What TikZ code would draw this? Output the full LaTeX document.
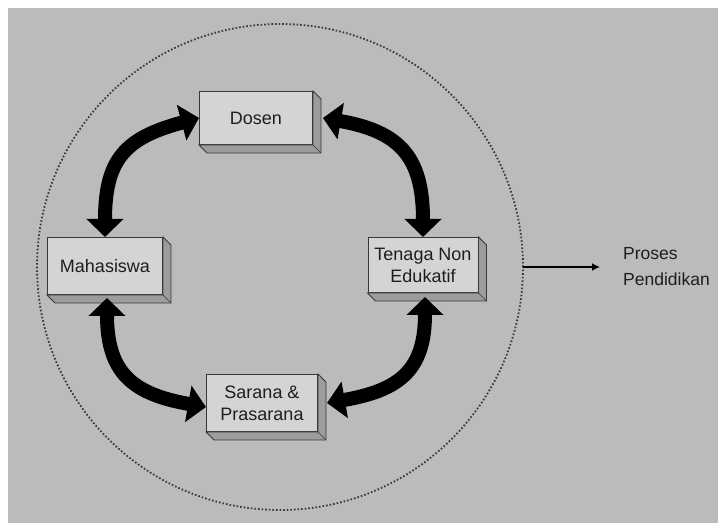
\documentclass[tikz,border=0pt]{standalone}
\usepackage{fontspec}
\setmainfont{Liberation Sans}
\usetikzlibrary{arrows.meta,calc}

\definecolor{latar}{HTML}{BBBBBB}
\definecolor{muka}{HTML}{D4D4D4}
\definecolor{sisi}{HTML}{9C9C9C}
\definecolor{garis}{HTML}{383838}
\definecolor{huruf}{HTML}{1E1E1E}

\tikzset{
  blok/.style={draw=garis, line width=1pt, fill=muka, text=huruf, align=center,
    inner sep=0pt, font=\fontsize{18}{22}\selectfont},
  panah/.style={line width=14pt, looseness=1.3,
    {Triangle[width=36pt,length=18pt]}-{Triangle[width=36pt,length=18pt]}},
}

% sisi tebal kotak (kanan dan bawah)
\newcommand{\sisiblok}[1]{%
  \filldraw[fill=sisi, draw=garis, line width=0.8pt] (#1.north east) -- ++(8,-8)
    -- ($(#1.south east)+(8,-8)$) -- ($(#1.south west)+(8,-8)$) -- (#1.south west)
    -- (#1.south east) -- cycle;
  \draw[garis, line width=0.6pt] (#1.south east) -- ++(8,-8);
}

\begin{document}
\begin{tikzpicture}[x=1pt, y=1pt]

\useasboundingbox[fill=white] (0,0) rectangle (718,525);
\fill[latar] (8,2) rectangle (718,517);

% lingkaran proses
\node[circle, draw=garis, line width=1.8pt, dash pattern=on 1.6pt off 2pt,
  minimum size=486pt, inner sep=0pt] (lingkaran) at (280,258) {};

% kotak-kotak
\node[blok, minimum width=113pt, minimum height=53pt] (dosen) at (256,407) {Dosen};
\node[blok, minimum width=115pt, minimum height=57pt] (maha) at (105,259) {Mahasiswa};
\node[blok, minimum width=110pt, minimum height=55pt] (tenaga) at (423,260) {Tenaga Non\\Edukatif};
\node[blok, minimum width=111pt, minimum height=57pt] (sarana) at (262,122) {Sarana \&\\Prasarana};

\sisiblok{dosen}
\sisiblok{maha}
\sisiblok{tenaga}
\sisiblok{sarana}

% panah dua arah
\draw[panah] (maha.north) to[out=90, in=195] (dosen.west);
\draw[panah] ([xshift=10pt]dosen.east) to[out=-10, in=90] (tenaga.north);
\draw[panah] ([shift={(2pt,-3pt)}]maha.south) to[out=-90, in=170] ([yshift=-4pt]sarana.west);
\draw[panah] ([shift={(2pt,-4pt)}]tenaga.south) to[out=-90, in=10] ([xshift=9pt]sarana.east);

% keluaran
\node[anchor=west, align=left, text=huruf, inner sep=0pt,
  font=\fontsize{17.5}{26}\selectfont] (proses) at (623,258) {Proses\\Pendidikan};
\draw[-{Latex[length=8pt,width=8pt]}, line width=2.4pt] ([xshift=-1pt]lingkaran.east) -- ([xshift=-23pt]proses.west);

\end{tikzpicture}
\end{document}
